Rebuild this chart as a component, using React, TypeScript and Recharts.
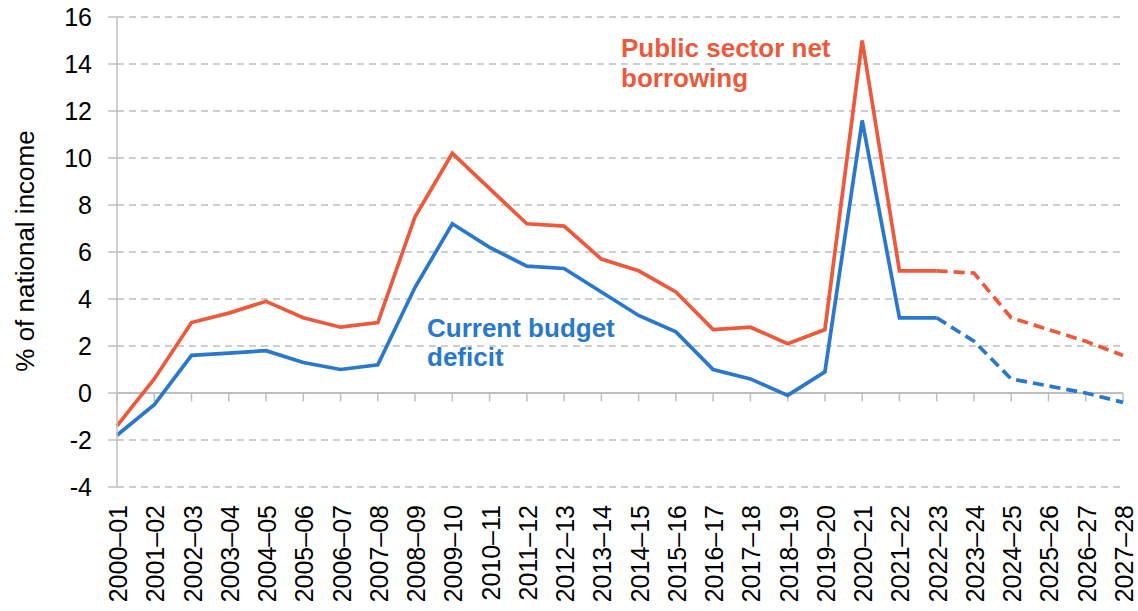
import React from 'react';
import { LineChart, Line, XAxis, YAxis, CartesianGrid, ReferenceLine } from 'recharts';

const years = [
  '2000–01', '2001–02', '2002–03', '2003–04', '2004–05', '2005–06', '2006–07',
  '2007–08', '2008–09', '2009–10', '2010–11', '2011–12', '2012–13', '2013–14',
  '2014–15', '2015–16', '2016–17', '2017–18', '2018–19', '2019–20', '2020–21',
  '2021–22', '2022–23', '2023–24', '2024–25', '2025–26', '2026–27', '2027–28',
];

// Public sector net borrowing, % of national income
const psnb = [
  -1.4, 0.6, 3.0, 3.4, 3.9, 3.2, 2.8, 3.0, 7.5, 10.2, 8.7, 7.2, 7.1, 5.7,
  5.2, 4.3, 2.7, 2.8, 2.1, 2.7, 15.0, 5.2, 5.2, 5.1, 3.2, 2.7, 2.2, 1.6,
];

// Current budget deficit, % of national income
const cbd = [
  -1.8, -0.5, 1.6, 1.7, 1.8, 1.3, 1.0, 1.2, 4.5, 7.2, 6.2, 5.4, 5.3, 4.3,
  3.3, 2.6, 1.0, 0.6, -0.1, 0.9, 11.6, 3.2, 3.2, 2.2, 0.6, 0.3, 0.0, -0.4,
];

const forecastFrom = '2022–23';
const yTicks = [-4, -2, 0, 2, 4, 6, 8, 10, 12, 14, 16];

const RED = '#EB5A3C';
const BLUE = '#2A78CB';
const GRID = '#BFBFBF';
const FONT = '"Liberation Sans", Arial, sans-serif';

const fcIdx = years.indexOf(forecastFrom);
const data = years.map((year, i) => ({
  year,
  psnbOut: i <= fcIdx ? psnb[i] : null,
  psnbFc: i >= fcIdx ? psnb[i] : null,
  cbdOut: i <= fcIdx ? cbd[i] : null,
  cbdFc: i >= fcIdx ? cbd[i] : null,
}));

const XTick = (props: any) => {
  const { x, y, payload } = props;
  return (
    <text
      x={x}
      y={y}
      transform={`rotate(-90 ${x} ${y})`}
      textAnchor="end"
      dominantBaseline="central"
      dy={1}
      fontSize={25}
      fontFamily={FONT}
      fill="#000"
    >
      {payload.value}
    </text>
  );
};

export default function App() {
  return (
    <div style={{ position: 'absolute', left: 0, top: 0, width: 1138, height: 611, background: '#fff' }}>
      <LineChart
        width={1138}
        height={611}
        data={data}
        margin={{ top: 17, right: 15, left: 0, bottom: 0 }}
      >
        <CartesianGrid vertical={false} stroke={GRID} strokeWidth={1.5} strokeDasharray="7 5" />
        <XAxis
          dataKey="year"
          axisLine={false}
          tickLine={false}
          tickSize={0}
          tickMargin={18}
          height={124}
          interval={0}
          tick={<XTick />}
        />
        <YAxis
          type="number"
          domain={[-4, 16]}
          ticks={yTicks}
          interval={0}
          width={117}
          stroke={GRID}
          strokeWidth={1.5}
          tickSize={9}
          tickMargin={16}
          tick={{ fontSize: 25, fontFamily: FONT, fill: '#000' }}
        />
        <ReferenceLine y={0} stroke={GRID} strokeWidth={2} />
        {years.map((yr) => (
          <ReferenceLine
            key={yr}
            segment={[{ x: yr, y: 0 }, { x: yr, y: -0.36 }]}
            stroke={GRID}
            strokeWidth={1.5}
          />
        ))}
        <Line type="linear" dataKey="cbdOut" stroke={BLUE} strokeWidth={3.7} dot={false} isAnimationActive={false} connectNulls={false} />
        <Line type="linear" dataKey="cbdFc" stroke={BLUE} strokeWidth={3.7} strokeDasharray="11 6" dot={false} isAnimationActive={false} connectNulls={false} />
        <Line type="linear" dataKey="psnbOut" stroke={RED} strokeWidth={3.7} dot={false} isAnimationActive={false} connectNulls={false} />
        <Line type="linear" dataKey="psnbFc" stroke={RED} strokeWidth={3.7} strokeDasharray="11 6" dot={false} isAnimationActive={false} connectNulls={false} />
        <text
          x={25}
          y={251}
          transform="rotate(-90 25 251)"
          textAnchor="middle"
          dominantBaseline="central"
          fontSize={26}
          fontFamily={FONT}
          fill="#000"
        >
          % of national income
        </text>
        <text x={621} y={57} fontSize={26} fontWeight="bold" fontFamily={FONT} fill={RED}>
          <tspan x={621} y={57}>Public sector net</tspan>
          <tspan x={621} y={87}>borrowing</tspan>
        </text>
        <text x={427} y={337} fontSize={26} fontWeight="bold" fontFamily={FONT} fill={BLUE}>
          <tspan x={427} y={337}>Current budget</tspan>
          <tspan x={427} y={366}>deficit</tspan>
        </text>
      </LineChart>
    </div>
  );
}
